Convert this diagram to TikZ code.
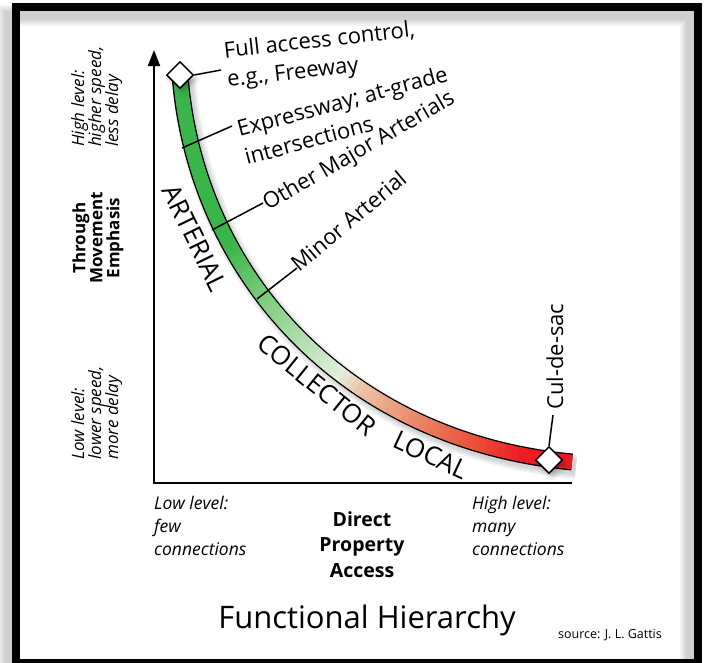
\documentclass[tikz,border=0pt]{standalone}
\usepackage{fontspec}
\setmainfont{Open Sans}
\usepackage{tikz}
\usetikzlibrary{shapes.geometric, arrows.meta, shadows.blur}
\definecolor{artgreen}{RGB}{57,181,74}
\definecolor{midgreen}{RGB}{128,204,128}
\definecolor{palegreen}{RGB}{224,240,218}
\definecolor{peach}{RGB}{236,198,168}
\definecolor{salmon}{RGB}{234,140,108}
\definecolor{redorange}{RGB}{232,72,52}
\definecolor{localred}{RGB}{237,28,36}
\tikzstyle{outerframe} = [line width=8pt, draw=black]
\tikzstyle{axisline} = [line width=2pt, line join=miter, {Triangle[length=16pt,width=12pt]}-]
\tikzstyle{endpt} = [diamond, draw=black, fill=white, line width=1.5pt, minimum width=27pt, minimum height=27pt, inner sep=0pt,
    blur shadow={shadow xshift=3pt, shadow yshift=-4pt, shadow blur radius=5pt, shadow opacity=25}]
\tikzstyle{tickline} = [line width=1.5pt]
\tikzstyle{lbl} = [inner sep=0pt, align=left, anchor=base west, font=\fontsize{22}{29}\selectfont]
\tikzstyle{cls} = [inner sep=0pt, font=\fontsize{26}{30}\selectfont]
\tikzstyle{sidelbl} = [inner sep=0pt, rotate=90, align=left, anchor=base west, font=\itshape\fontsize{17}{17}\selectfont]
\tikzstyle{sidehead} = [inner sep=0pt, rotate=90, align=center, font=\bfseries\fontsize{17}{17}\selectfont]
\tikzstyle{botlbl} = [inner sep=0pt, align=left, anchor=base west, font=\itshape\fontsize{17.5}{23}\selectfont]
\tikzstyle{bothead} = [inner sep=0pt, align=center, anchor=base, font=\bfseries\fontsize{19.5}{25.5}\selectfont]

\begin{document}
\begin{tikzpicture}[x=1pt, y=-1pt]
        \useasboundingbox (0,0) rectangle (704,662);

        % Frame and its shadow
        \foreach \w in {9,13,17,21}
            \draw[line width=\w pt, black, opacity=.05] (8,15) rectangle (690,671);
        \draw[outerframe] (16,7) rectangle (698,663);

        % Curve of the hierarchy
        \coordinate (c0) at (180,75);
        \coordinate (c1) at (195,270);
        \coordinate (c2) at (340,440);
        \coordinate (c3) at (572,462);
        \foreach \i in {0,...,100}
            \path (c0) .. controls (c1) and (c2) .. (c3) coordinate[pos=\i/100] (b\i);

        % Band: shadow, outline, then colour from green to red
        \foreach \w in {16,20,24}
            \draw[line width=\w pt, black, opacity=.06, shift={(4,5)}] (180,75) .. controls (195,270) and (340,440) .. (572,462);
        \draw[line width=17pt, black] (c0) .. controls (c1) and (c2) .. (c3);
        \foreach \ta/\tb/\ca/\cb in {0/30/artgreen/artgreen, 30/42/artgreen/midgreen, 42/60/midgreen/palegreen,
                60/64/palegreen/peach, 64/74/peach/salmon, 74/86/salmon/redorange, 86/92/redorange/localred,
                92/100/localred/localred}{
            \pgfmathtruncatemacro\tl{\tb-1}
            \foreach \i in {\ta,...,\tl}{
                \pgfmathtruncatemacro\p{100*(\i-\ta)/(\tb-\ta)}
                \pgfmathtruncatemacro\j{min(\i+2,100)}
                \draw[line width=14pt, \cb!\p!\ca] (b\i) -- (b\j);
            }
        }

        % Axes
        \coordinate (orig) at (154,483);
        \coordinate (ytop) at (154,50);
        \coordinate (xend) at (572,483);
        \draw[axisline] (ytop) -- (orig) -- (xend);

        % Nodes
        \node[endpt] (fwy) at (180,75) {};
        \node[endpt] (cds) at (549,460) {};
        \node[lbl, rotate=6.5] (fwylbl) at (228,87) {Full access control,\\e.g., Freeway};
        \node[lbl, rotate=15] (explbl) at (247,165) {Expressway; at-grade\\intersections};
        \node[lbl, rotate=30] (othlbl) at (268,211) {Other Major Arterials};
        \node[lbl, rotate=40] (minlbl) at (299,273) {Minor Arterial};
        \node[lbl, rotate=90] (cdslbl) at (563,410) {Cul-de-sac};
        \node[cls, rotate=-64] (art) at (195,238) {ARTERIAL};
        \node[cls, rotate=-39] (coll) at (317,385) {COLLECTOR};
        \node[cls, rotate=-25] (loc) at (431,455) {LOCAL};

        % Ticks across the band
        \coordinate (fwytip) at (221,70);
        \coordinate (exp) at (182,148);
        \coordinate (exptip) at (232,126);
        \coordinate (oth) at (212,230);
        \coordinate (othtip) at (263,203);
        \coordinate (min) at (257,299);
        \coordinate (mintip) at (297,268);
        \coordinate (cdstip) at (553,415);
        \draw[tickline] (fwy.east) -- (fwytip);
        \draw[tickline] (exp) -- (exptip);
        \draw[tickline] (oth) -- (othtip);
        \draw[tickline] (min) -- (mintip);
        \draw[tickline] (cds.north) -- (cdstip);

        % Axis texts
        \node[sidelbl] (hispd) at (118,147) {High level:\\higher speed,\\less delay};
        \node[sidelbl] (lospd) at (118,460) {Low level:\\lower speed,\\more delay};
        \node[sidehead] (tme) at (98,238) {Through\\Movement\\Emphasis};
        \node[botlbl] (lowacc) at (154,555) {Low level:\\few\\connections};
        \node[botlbl] (highacc) at (472,555) {High level:\\many\\connections};
        \node[bothead] (dpa) at (362,577) {Direct\\Property\\Access};
        \node[inner sep=0pt, anchor=base, font=\fontsize{31}{36}\selectfont] (title) at (367,628) {Functional Hierarchy};
        \node[inner sep=0pt, anchor=base west, font=\fontsize{12.5}{15}\selectfont] (src) at (558,638) {source: J. L. Gattis};
    \end{tikzpicture}
\end{document}
